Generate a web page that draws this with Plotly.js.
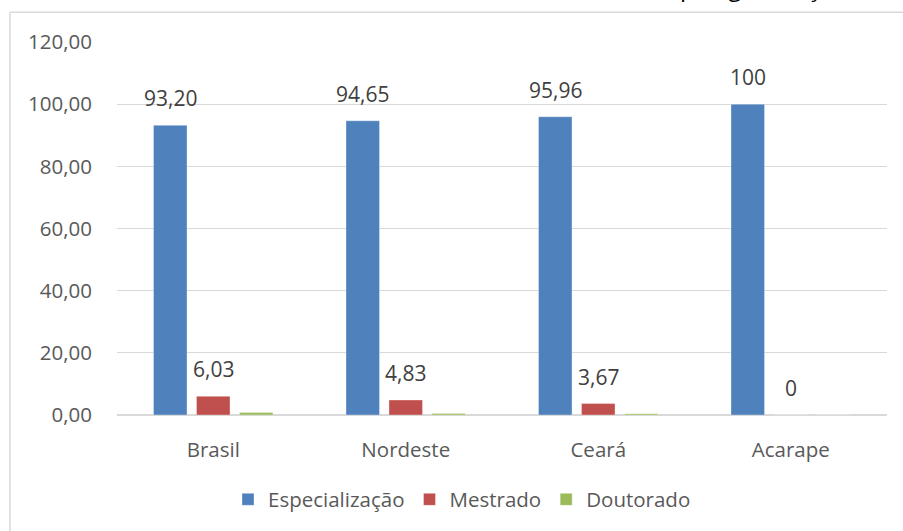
<!DOCTYPE html>
<html>
<head>
<meta charset="utf-8">
<script src="https://cdn.plot.ly/plotly-3.0.1.min.js"></script>
<style>
  html, body { margin: 0; padding: 0; background: #ffffff; }
  #chart { width: 903px; height: 531px; }
</style>
</head>
<body>
<div id="chart"></div>
<script>
// Percentual de professores por nível de pós-graduação
const categories = ['Brasil', 'Nordeste', 'Ceará', 'Acarape'];
const especializacao = [93.20, 94.65, 95.96, 100];
const mestrado = [6.03, 4.83, 3.67, 0];
const doutorado = [0.77, 0.52, 0.37, 0];
const yTicks = [0, 20, 40, 60, 80, 100, 120];

const W = 903, H = 531;
const M = { l: 117, r: 16, t: 42, b: 114 };
const plotW = W - M.l - M.r, plotH = H - M.t - M.b;
// pixel -> paper helpers for the outer frame
const px = x => (x - M.l) / plotW;
const py = y => (H - M.b - y) / plotH;

const fmt = v => Number.isInteger(v) ? String(v) : v.toFixed(2).replace('.', ',');

const FONT = 'Open Sans, Noto Sans, sans-serif';

const traces = [
  { name: 'Especialização', y: especializacao, color: '#4F81BD' },
  { name: 'Mestrado', y: mestrado, color: '#C0504D' },
  { name: 'Doutorado', y: doutorado, color: '#9BBB59' }
].map(s => ({
  type: 'bar',
  name: s.name,
  x: categories,
  y: s.y,
  marker: { color: s.color, line: { color: 'rgba(255,255,255,0.35)', width: 1 } },
  hoverinfo: 'x+y+name'
}));

// value labels for Especialização and Mestrado, placed over their own bars
const slot = 43;
const annotations = [];
[[especializacao, -slot], [mestrado, 0]].forEach(([vals, shift]) => {
  vals.forEach((v, i) => {
    annotations.push({
      x: categories[i], y: v, xref: 'x', yref: 'y',
      text: fmt(v), showarrow: false,
      xshift: shift, yshift: 11, yanchor: 'bottom',
      font: { family: FONT, size: 21, color: '#404040' }
    });
  });
});
// chart heading running above the frame
annotations.push({
  x: px(678), y: py(5), xref: 'paper', yref: 'paper',
  xanchor: 'left', yanchor: 'bottom', showarrow: false,
  text: 'pós-graduação',
  font: { family: FONT, size: 24, color: '#000000' }
});

const layout = {
  width: W, height: H,
  margin: M,
  paper_bgcolor: '#ffffff', plot_bgcolor: '#ffffff',
  separators: ',.',
  barmode: 'group',
  bargap: 0.33,
  bargroupgap: 0.22,
  font: { family: FONT, color: '#595959' },
  xaxis: {
    type: 'category',
    showgrid: false, showline: false, zeroline: false,
    ticks: '', ticklabelstandoff: 20,
    tickfont: { family: FONT, size: 20.5, color: '#595959' }
  },
  yaxis: {
    range: [0, 120],
    tickvals: yTicks,
    tickformat: '.2f',
    showgrid: true, gridcolor: '#d9d9d9', gridwidth: 1,
    zeroline: true, zerolinecolor: '#d9d9d9', zerolinewidth: 1.5,
    showline: false, ticks: '', ticklabelstandoff: 24,
    tickfont: { family: FONT, size: 20.5, color: '#595959' }
  },
  legend: {
    orientation: 'h',
    x: px(462), xanchor: 'center',
    y: py(502), yanchor: 'middle',
    font: { family: FONT, size: 20.5, color: '#595959' },
    itemwidth: 30, traceorder: 'normal'
  },
  shapes: [
    { type: 'line', xref: 'paper', yref: 'paper', x0: px(10), x1: px(10), y0: py(12), y1: py(560),
      line: { color: '#d9d9d9', width: 1.5 } },
    { type: 'line', xref: 'paper', yref: 'paper', x0: px(10), x1: px(920), y0: py(12), y1: py(12),
      line: { color: '#d9d9d9', width: 1.5 } }
  ],
  annotations: annotations,
  showlegend: true
};

Plotly.newPlot('chart', traces, layout, { displayModeBar: false, staticPlot: true });
</script>
</body>
</html>
